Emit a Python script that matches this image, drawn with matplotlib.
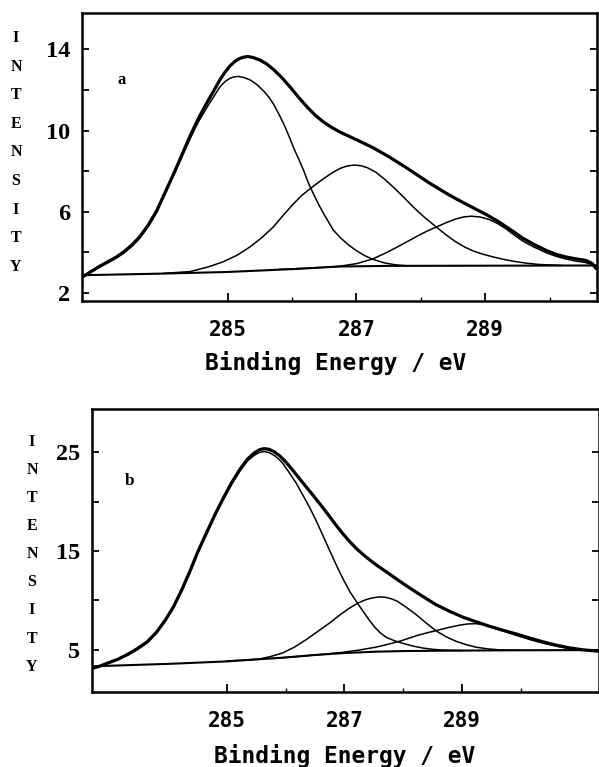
import matplotlib
matplotlib.use("Agg")
import matplotlib.pyplot as plt
from matplotlib.ticker import FixedLocator

# ---------------- Panel a data (Binding energy eV, intensity) ----------------
a_total_E = [282.74, 282.88, 283.02, 283.15, 283.28, 283.40, 283.52, 283.64, 283.77,
             283.90, 284.03, 284.16,
             284.29, 284.42, 284.55, 284.68, 284.80, 284.88, 284.96, 285.04, 285.12,
             285.19, 285.26, 285.32, 285.40, 285.50, 285.60, 285.71, 285.84, 285.97,
             286.10, 286.23, 286.36, 286.49, 286.62, 286.75, 287.00, 287.25, 287.51,
             287.77, 288.13, 288.40, 288.54, 288.70, 288.90, 289.05, 289.21, 289.40,
             289.58, 289.76, 289.94, 290.10, 290.25, 290.40, 290.56, 290.66, 290.72]
a_total_I = [2.77, 3.05, 3.32, 3.55, 3.78, 4.05, 4.38, 4.78, 5.35,
             6.05, 6.95, 7.85,
             8.80, 9.75, 10.62, 11.38, 12.05, 12.50, 12.88, 13.20, 13.43,
             13.56, 13.63, 13.65, 13.60, 13.48, 13.30, 13.02, 12.62, 12.15,
             11.65, 11.18, 10.76, 10.42, 10.15, 9.92, 9.55, 9.17, 8.70,
             8.18, 7.42, 6.90, 6.65, 6.38, 6.05, 5.80, 5.50, 5.10,
             4.70, 4.38, 4.10, 3.90, 3.77, 3.68, 3.60, 3.45, 3.20]

a_c1_E = [282.74, 282.88, 283.02, 283.15, 283.28, 283.40, 283.52, 283.64, 283.77,
          283.90, 284.03, 284.16,
          284.29, 284.42, 284.55, 284.68, 284.80, 284.88, 284.96, 285.04, 285.10,
          285.17, 285.25, 285.35, 285.45, 285.56, 285.64, 285.71, 285.79, 285.87,
          285.95, 286.02, 286.10, 286.18, 286.25, 286.33, 286.41, 286.49, 286.57,
          286.64, 286.75, 286.87, 286.99, 287.12, 287.25, 287.43, 287.61, 287.80]
a_c1_I = [2.77, 3.02, 3.28, 3.50, 3.73, 3.99, 4.31, 4.71, 5.28,
          5.98, 6.88, 7.78,
          8.70, 9.62, 10.45, 11.15, 11.75, 12.15, 12.42, 12.58, 12.65,
          12.67, 12.62, 12.50, 12.28, 11.95, 11.65, 11.32, 10.85, 10.34,
          9.75, 9.19, 8.62, 8.04, 7.45, 6.90, 6.38, 5.91, 5.48,
          5.10, 4.72, 4.38, 4.10, 3.85, 3.66, 3.48, 3.38, 3.33]

a_c2_E = [284.00, 284.42, 284.70, 284.93, 285.15, 285.35, 285.53, 285.71, 285.87,
          286.02, 286.15, 286.28, 286.41, 286.54, 286.65, 286.75, 286.85, 286.96,
          287.07, 287.17, 287.30, 287.43, 287.56, 287.72, 287.87, 288.05, 288.25,
          288.40, 288.54, 288.68, 288.80, 288.95, 289.11, 289.30, 289.47, 289.65,
          289.83, 290.20]
a_c2_I = [2.96, 3.05, 3.28, 3.53, 3.86, 4.27, 4.72, 5.25, 5.85,
          6.38, 6.80, 7.13, 7.45, 7.74, 7.97, 8.14, 8.25, 8.30,
          8.27, 8.17, 7.95, 7.62, 7.25, 6.76, 6.27, 5.74, 5.22,
          4.84, 4.52, 4.26, 4.08, 3.92, 3.78, 3.64, 3.54, 3.46,
          3.40, 3.35]

a_c3_E = [285.80, 286.30, 286.73, 287.00, 287.25, 287.43, 287.61, 287.79, 287.97,
          288.10, 288.25, 288.40, 288.54, 288.66, 288.78, 288.92, 289.06, 289.19,
          289.32, 289.45, 289.58, 289.76, 289.94, 290.10, 290.25, 290.40, 290.56,
          290.72]
a_c3_I = [3.16, 3.22, 3.31, 3.44, 3.67, 3.93, 4.22, 4.53, 4.84,
          5.05, 5.26, 5.47, 5.64, 5.74, 5.78, 5.74, 5.62, 5.42,
          5.16, 4.85, 4.56, 4.25, 3.99, 3.80, 3.67, 3.57, 3.49,
          3.35]

a_base_E = [282.74, 284.00, 285.00, 286.00, 286.75, 287.50, 290.72]
a_base_I = [2.87, 2.95, 3.03, 3.17, 3.30, 3.33, 3.35]

# ---------------- Panel b data ----------------
b_total_E = [282.69, 282.83, 282.97, 283.14, 283.31, 283.48, 283.65, 283.81, 283.95,
             284.09, 284.23, 284.37, 284.51, 284.66, 284.80, 284.94, 285.08, 285.22,
             285.35, 285.47, 285.56, 285.64, 285.72, 285.81, 285.90, 286.00, 286.10,
             286.20, 286.33, 286.46, 286.59, 286.72, 286.86, 286.97, 287.08, 287.20,
             287.31, 287.43, 287.55, 287.71, 287.90, 288.11, 288.33, 288.56, 288.80,
             289.02, 289.25, 289.47, 289.70, 289.92, 290.15, 290.38, 290.60, 290.83,
             291.05, 291.33]
b_total_I = [3.05, 3.30, 3.62, 4.00, 4.50, 5.10, 5.80, 6.80, 7.95,
             9.30, 11.00, 12.90, 14.95, 16.90, 18.70, 20.35, 21.90, 23.25,
             24.30, 24.95, 25.28, 25.38, 25.30, 25.05, 24.65, 24.05, 23.35,
             22.60, 21.65, 20.70, 19.72, 18.72, 17.60, 16.78, 16.02, 15.27,
             14.68, 14.10, 13.55, 12.90, 12.10, 11.25, 10.40, 9.55, 8.85,
             8.28, 7.80, 7.36, 6.95, 6.59, 6.17, 5.78, 5.45, 5.17,
             4.98, 4.83]

b_c1_E = [282.69, 282.83, 282.97, 283.14, 283.31, 283.48, 283.65, 283.81, 283.95,
          284.09, 284.23, 284.37, 284.51, 284.66, 284.80, 284.94, 285.08, 285.22,
          285.35, 285.47, 285.56, 285.64, 285.72, 285.81, 285.90, 285.95, 286.05,
          286.18, 286.30, 286.41, 286.53, 286.64, 286.75, 286.86, 286.97, 287.09,
          287.24, 287.34, 287.43, 287.52, 287.61, 287.71, 287.85, 288.00, 288.17,
          288.34, 288.51, 288.68, 289.00]
b_c1_I = [3.05, 3.28, 3.58, 3.95, 4.42, 5.00, 5.70, 6.70, 7.85,
          9.18, 10.88, 12.78, 14.82, 16.78, 18.58, 20.22, 21.75, 23.08,
          24.12, 24.72, 25.00, 25.08, 24.98, 24.68, 24.22, 23.91, 23.05,
          21.89, 20.60, 19.40, 17.95, 16.50, 15.05, 13.60, 12.25, 10.90,
          9.55, 8.70, 7.93, 7.25, 6.70, 6.25, 5.90, 5.62, 5.35,
          5.15, 5.02, 4.95, 4.90]

b_c2_E = [285.00, 285.30, 285.56, 285.75, 285.95, 286.15, 286.35, 286.55, 286.75,
          286.92, 287.09, 287.24, 287.37, 287.48, 287.60, 287.70, 287.80, 287.90,
          288.05, 288.22, 288.39, 288.56, 288.73, 288.90, 289.07, 289.24, 289.44,
          289.64, 290.00]
b_c2_I = [3.85, 3.93, 4.05, 4.30, 4.66, 5.25, 6.01, 6.85, 7.70,
          8.50, 9.22, 9.75, 10.07, 10.25, 10.34, 10.30, 10.15, 9.90,
          9.30, 8.55, 7.70, 6.90, 6.30, 5.84, 5.50, 5.24, 5.07,
          4.97, 4.93]

b_c3_E = [285.80, 286.10, 286.40, 286.70, 286.97, 287.25, 287.54, 287.75, 287.97,
          288.11, 288.25, 288.42, 288.59, 288.78, 288.96, 289.10, 289.24, 289.38,
          289.53, 289.72, 289.92, 290.15, 290.38, 290.60, 290.83, 291.05, 291.33]
b_c3_I = [4.10, 4.25, 4.40, 4.56, 4.72, 4.95, 5.25, 5.55, 5.90,
          6.18, 6.45, 6.72, 6.97, 7.25, 7.48, 7.60, 7.63, 7.50,
          7.22, 6.85, 6.45, 6.02, 5.65, 5.35, 5.10, 4.95, 4.83]

b_base_E = [282.69, 284.00, 285.00, 285.50, 286.00, 286.50, 287.00, 287.50, 288.00,
            289.00, 290.00, 291.33]
b_base_I = [3.30, 3.55, 3.80, 4.00, 4.20, 4.45, 4.65, 4.78, 4.85,
            4.90, 4.93, 4.95]

# ---------------- Axis / tick definitions ----------------
x_major = [285, 287, 289]
x_minor = [286, 288, 290]
a_y_major = [2, 6, 10, 14]
a_y_minor = [4, 8, 12]
b_y_major = [5, 15, 25]
b_y_minor = [10, 20]
xlabel_text = "Binding Energy / eV"
ylabel_text = "INTENSITY"

fig = plt.figure(figsize=(5.99, 7.67), dpi=100)
axA = fig.add_axes([0.1369, 0.6076, 0.8593, 0.3755])
axB = fig.add_axes([0.1528, 0.0978, 0.8472, 0.3690])

mono = "DejaVu Sans Mono"
serif = "Liberation Serif"


def style(ax, xlim, ylim, ymaj, ymin, ypad, lab_xy):
    ax.set_xlim(*xlim)
    ax.set_ylim(*ylim)
    for s in ax.spines.values():
        s.set_linewidth(1.8)
    ax.set_xticks(x_major)
    ax.set_xticklabels([str(v) for v in x_major], fontfamily=mono,
                       fontweight="bold", fontsize=15)
    ax.xaxis.set_minor_locator(FixedLocator(x_minor))
    ax.set_yticks(ymaj)
    ax.set_yticklabels([str(v) for v in ymaj], fontfamily=serif,
                       fontweight="bold", fontsize=17.5)
    ax.yaxis.set_minor_locator(FixedLocator(ymin))
    ax.tick_params(axis="y", which="both", direction="in", left=True,
                   right=True, length=5, width=1.3, pad=ypad)
    ax.tick_params(axis="x", which="major", direction="in", bottom=True,
                   top=False, length=6, width=1.3, pad=14)
    ax.tick_params(axis="x", which="minor", direction="in", bottom=True,
                   top=False, length=3, width=1.0)
    ax.set_xlabel(xlabel_text, fontfamily=mono, fontweight="bold",
                  fontsize=16.5)
    ax.xaxis.set_label_coords(*lab_xy)


def draw(ax, tot, comps, base):
    kw = dict(color="black", solid_capstyle="round", solid_joinstyle="round")
    for e, i in comps:
        ax.plot(e, i, lw=1.1, **kw)
    ax.plot(base[0], base[1], lw=1.5, **kw)
    ax.plot(tot[0], tot[1], lw=2.3, **kw)


draw(axA, (a_total_E, a_total_I),
     [(a_c1_E, a_c1_I), (a_c2_E, a_c2_I), (a_c3_E, a_c3_I)],
     (a_base_E, a_base_I))
draw(axB, (b_total_E, b_total_I),
     [(b_c1_E, b_c1_I), (b_c2_E, b_c2_I), (b_c3_E, b_c3_I)],
     (b_base_E, b_base_I))

style(axA, (282.74, 290.73), (1.6, 15.8), a_y_major, a_y_minor, 8.6,
      (0.493, -0.174))
style(axB, (282.70, 291.33), (0.7, 29.4), b_y_major, b_y_minor, 8.3,
      (0.4995, -0.184))

axA.text(283.36, 12.5, "a", fontfamily=serif, fontweight="bold",
         fontsize=12, ha="center", va="center")
axB.text(283.34, 22.05, "b", fontfamily=serif, fontweight="bold",
         fontsize=12.5, ha="center", va="center")

# vertical stacked "INTENSITY" labels
H = 767.0
for x_px, y0, y1 in [(16, 38, 267), (32, 441.7, 666.7)]:
    n = len(ylabel_text)
    for k, ch in enumerate(ylabel_text):
        ypx = y0 + (y1 - y0) * k / (n - 1)
        fig.text(x_px / 599.0, 1 - ypx / H, ch, fontfamily=serif,
                 fontweight="bold", fontsize=11.5, ha="center", va="center")

fig.savefig("out.png", dpi=100)
